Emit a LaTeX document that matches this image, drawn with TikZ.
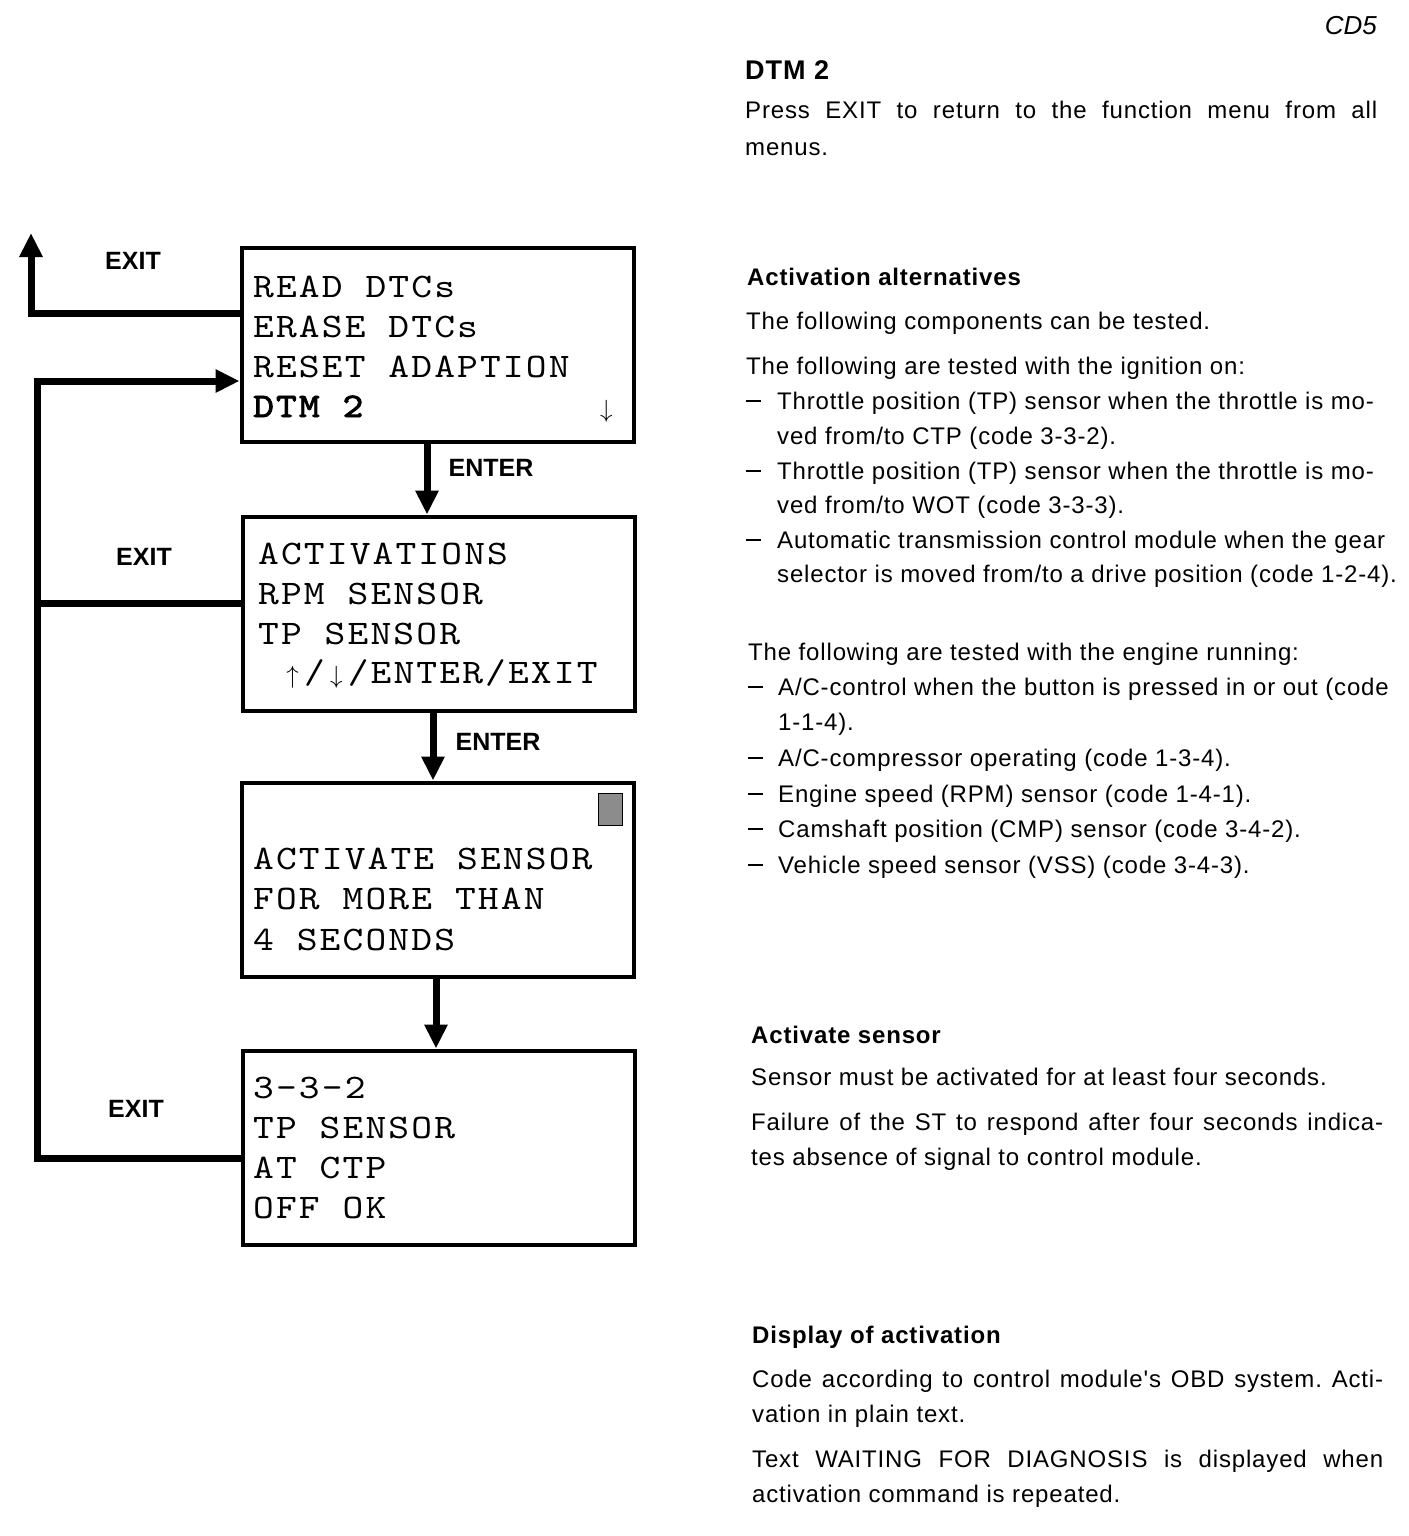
\documentclass[tikz,border=0pt]{standalone}
\usepackage{fontspec}
\setmainfont{Liberation Sans}
\newfontfamily\bodyf{Liberation Sans}[LetterSpace=3.5]
\newfontfamily\monof{lmmono10-regular}[Extension=.otf,FakeStretch=1.15,LetterSpace=6.2]
\newfontfamily\monobf{lmmono10-regular}[Extension=.otf,FakeStretch=1.15,LetterSpace=6.2,FakeBold=2.5]
\usetikzlibrary{arrows.meta}
\frenchspacing
\newcommand{\mymono}{\monof\fontsize{34.4}{40}\selectfont}
\newcommand{\myarr}[1]{\makebox[22.9pt][c]{$#1$}}
\newcommand{\mydash}{\rule[7.5pt]{15pt}{1.6pt}}
\begin{document}
\begin{tikzpicture}[x=1pt,y=-1pt,
  screen/.style={draw,line width=4pt,inner sep=0pt,minimum width=392pt,minimum height=194pt},
  conn/.style={line width=7pt,line join=miter},
  tip/.style={-{Triangle[width=22pt,length=24pt]}},
  mono/.style={anchor=base west,inner sep=0pt,font=\mymono},
  txt/.style={anchor=base west,inner sep=0pt,font=\bodyf\fontsize{24}{28}\selectfont},
  hd/.style={anchor=base west,inner sep=0pt,font=\bodyf\bfseries\fontsize{24}{28}\selectfont},
  lbl/.style={inner sep=0pt,font=\bfseries\fontsize{25}{28}\selectfont}]
\fill[white] (0,0) rectangle (1408,1536);
\useasboundingbox (0,0) rectangle (1408,1536);

% screens
\node[screen] (b1) at (437.5,345) {};
\node[screen] (b2) at (439,613.5) {};
\node[screen] (b3) at (438,879.5) {};
\node[screen] (b4) at (439,1147.5) {};

% screen texts
\node[mono] (m11) at (253,297) {READ DTCs};
\node[mono] (m12) at (253,337) {ERASE DTCs};
\node[mono] (m13) at (253,377) {RESET ADAPTION};
\node[mono,font=\monobf\fontsize{34.4}{40}\selectfont] (m14) at (253,417) {DTM 2};
\node[mono] (m15) at (600,417) {$\downarrow$};
\node[mono] (m21) at (258,564) {ACTIVATIONS};
\node[mono] (m22) at (258,604) {RPM SENSOR};
\node[mono] (m23) at (258,644) {TP SENSOR};
\node[mono] (m24) at (281,683) {\myarr{\uparrow}/\myarr{\downarrow}/ENTER/EXIT};
\node[draw,line width=1pt,fill=black!45,minimum width=24pt,minimum height=32pt,inner sep=0pt] (sq) at (610.5,809.5) {};
\node[mono] (m31) at (253,869) {ACTIVATE SENSOR};
\node[mono] (m32) at (253,909) {FOR MORE THAN};
\node[mono] (m33) at (253,950) {4 SECONDS};
\node[mono] (m41) at (253,1098) {3-3-2};
\node[mono] (m42) at (253,1138) {TP SENSOR};
\node[mono] (m43) at (253,1178) {AT CTP};
\node[mono] (m44) at (253,1218) {OFF OK};

% connectors
\coordinate (exitTop) at (31,233);
\coordinate (lx) at (37,381);
\draw[conn,tip] ([yshift=32pt]b1.west) -| (exitTop);
\draw[conn,tip] ([yshift=-10.5pt]b4.west) -| (lx) -- ([yshift=-36pt]b1.west);
\draw[conn] ([yshift=10.5pt]b2.west) -- ([yshift=10.5pt]b2.west -| lx);
\draw[conn,tip] ([xshift=-10.5pt]b1.south) -- ([xshift=-12pt]b2.north);
\draw[conn,tip] ([xshift=-6pt]b2.south) -- ([xshift=-5pt]b3.north);
\draw[conn,tip] ([xshift=-2pt]b3.south) -- ([xshift=-3pt]b4.north);

% labels
\node[lbl] (e1) at (133,261) {EXIT};
\node[lbl] (e2) at (144,557) {EXIT};
\node[lbl] (e3) at (136,1109) {EXIT};
\node[lbl] (n1) at (491,468) {ENTER};
\node[lbl] (n2) at (498,742) {ENTER};

% right column
\node[inner sep=0pt,anchor=base east,font=\itshape\fontsize{26}{30}\selectfont] (cd) at (1377,35) {CD5};
\node[anchor=base west,inner sep=0pt,font=\bodyf\bfseries\fontsize{27}{30}\selectfont] (dtm) at (745,80) {DTM 2};
\node[txt] (r1) at (745,119) {\makebox[632pt][s]{Press EXIT to return to the function menu from all}};
\node[txt] (r2) at (745,155) {menus.};

\node[hd] (h1) at (747,285) {Activation alternatives};
\node[txt] (r3) at (746,329) {The following components can be tested.};
\node[txt] (r4) at (746,374) {The following are tested with the ignition on:};
\node[txt] (d1) at (746,409) {\mydash};
\node[txt] (r5) at (777,409) {Throttle position (TP) sensor when the throttle is mo-};
\node[txt] (r6) at (777,444) {ved from/to CTP (code 3-3-2).};
\node[txt] (d2) at (746,479) {\mydash};
\node[txt] (r7) at (777,479) {Throttle position (TP) sensor when the throttle is mo-};
\node[txt] (r8) at (777,513) {ved from/to WOT (code 3-3-3).};
\node[txt] (d3) at (746,548) {\mydash};
\node[txt] (r9) at (777,548) {Automatic transmission control module when the gear};
\node[txt] (r10) at (777,582) {selector is moved from/to a drive position (code 1-2-4).};

\node[txt] (r11) at (748,660) {The following are tested with the engine running:};
\node[txt] (d4) at (748,695) {\mydash};
\node[txt] (r12) at (778,695) {A/C-control when the button is pressed in or out (code};
\node[txt] (r13) at (778,730) {1-1-4).};
\node[txt] (d5) at (748,766) {\mydash};
\node[txt] (r14) at (778,766) {A/C-compressor operating (code 1-3-4).};
\node[txt] (d6) at (748,802) {\mydash};
\node[txt] (r15) at (778,802) {Engine speed (RPM) sensor (code 1-4-1).};
\node[txt] (d7) at (748,837) {\mydash};
\node[txt] (r16) at (778,837) {Camshaft position (CMP) sensor (code 3-4-2).};
\node[txt] (d8) at (748,873) {\mydash};
\node[txt] (r17) at (778,873) {Vehicle speed sensor (VSS) (code 3-4-3).};

\node[hd] (h2) at (751,1043) {Activate sensor};
\node[txt] (r18) at (751,1085) {Sensor must be activated for at least four seconds.};
\node[txt] (r19) at (751,1130) {\makebox[632pt][s]{Failure of the ST to respond after four seconds indica-}};
\node[txt] (r20) at (751,1165) {tes absence of signal to control module.};

\node[hd] (h3) at (752,1343) {Display of activation};
\node[txt] (r21) at (752,1387) {\makebox[631pt][s]{Code according to control module's OBD system. Acti-}};
\node[txt] (r22) at (752,1422) {vation in plain text.};
\node[txt] (r23) at (752,1467) {\makebox[631pt][s]{Text WAITING FOR DIAGNOSIS is displayed when}};
\node[txt] (r24) at (752,1502) {activation command is repeated.};
\end{tikzpicture}
\end{document}
